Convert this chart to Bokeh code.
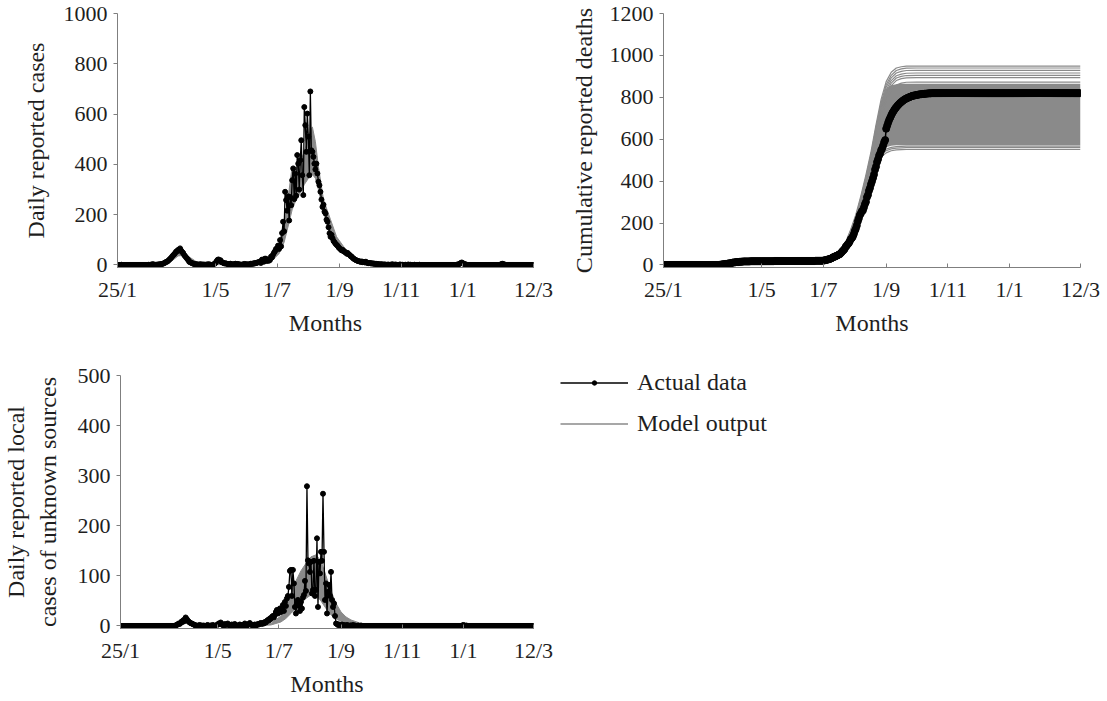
import pandas as pd
from bokeh.plotting import figure
from bokeh.layouts import column, row
from bokeh.models import Range1d, FixedTicker, Legend, LegendItem
from bokeh.embed import file_html
from bokeh.resources import INLINE

# ---------------- data ----------------
START_DATE = "2020-01-25"
tick_dates = ["2020-01-25", "2020-05-01", "2020-07-01", "2020-09-01",
              "2020-11-01", "2021-01-01", "2021-03-12"]
tick_labels = ["25/1", "1/5", "1/7", "1/9", "1/11", "1/1", "12/3"]

y_ticks_cases = [0, 200, 400, 600, 800, 1000]
y_ticks_deaths = [0, 200, 400, 600, 800, 1000, 1200]
y_ticks_unknown = [0, 100, 200, 300, 400, 500]

# daily reported cases, one value per day from 25/1/2020
daily_cases = (
    [0, 0, 0, 0, 1, 0, 0, 0, 0, 0, 0, 0, 0, 0, 0, 0, 0, 0, 0, 0,
     0, 0, 0, 0, 0, 0, 0, 0, 0, 0, 0, 1, 0, 1, 2, 3, 2]
    + [0, 1, 1, 2, 2, 3, 3, 4, 5, 7, 9, 12, 13, 16, 20, 24, 28, 33, 38, 42,
       47, 53, 55, 60, 58, 66, 57, 52, 48, 40, 35, 30, 25, 20, 13, 11, 9, 7, 5, 4,
       3, 3, 2]
    + [2, 1, 3, 2, 1, 2, 1, 0, 2, 1, 3, 2, 1, 0, 1, 2, 4]
    + [8, 14, 20, 22, 17, 19, 12, 10, 8, 6, 7, 5, 4, 3]
    + [4, 5, 3, 2, 2, 4, 5, 3, 4, 3, 2, 1, 1, 2, 3, 4, 2, 3, 2, 2,
       3, 5, 4, 6, 5, 8, 7, 9, 10, 12]
    + [12, 8, 21, 21, 13, 25, 25, 16, 19, 17, 20, 33, 30, 41, 49, 55, 64]
    + [66, 77, 64, 99, 74, 127, 172, 134, 291, 258,
       216, 273, 177, 270, 238, 337, 384, 262, 363, 275,
       437, 403, 300, 417, 496, 357, 278, 628, 556, 450,
       602, 510, 357, 690, 456, 450, 430, 403, 380, 403,
       364, 331, 317, 291, 260, 231, 240, 212, 205, 180,
       172, 150, 126, 112, 120, 106, 95, 90, 84, 80,
       76, 70, 66, 62, 58, 60, 55, 52, 50, 45,
       48, 42, 40, 35, 33, 28, 25, 22, 20, 18,
       16, 15, 14, 12, 14, 11, 12, 10, 13, 9,
       8, 7, 8, 6, 7, 5, 6, 4]
    + [5, 3, 4, 2, 3, 2, 3, 1, 2, 2, 1, 0, 2, 0, 1, 0, 3, 1, 0, 2,
       1, 0, 0, 1, 2, 0, 1, 0, 0, 1, 0, 0, 2, 0, 1, 0, 0, 0, 1, 0,
       0, 0, 0, 1, 0]
    + [0] * 35
    + [1, 2, 3, 5, 8, 10, 7, 5, 3, 2, 1]
    + [0] * 32
    + [1, 3, 5, 4, 2, 1, 0]
    + [0] * 27
)

# cumulative reported deaths, one value per day from 25/1/2020
cum_deaths = (
    [0] * 55
    + [1, 1, 2, 3, 3, 4, 5, 5, 6, 7, 8, 8, 9, 11, 12, 12, 13, 14, 14, 14,
       15, 15, 16, 16, 17]
    + [17] * 6 + [18] * 24 + [19] * 20
    + [19] * 20 + [20] * 8 + [21, 22, 23]
    + [24, 26, 27, 28, 30, 32, 35, 38, 39, 42,
       44, 46, 49, 51, 56, 61, 67, 71, 77, 87,
       92, 99, 104, 112, 123, 128, 135, 147, 162, 173,
       188, 208, 222, 238, 246, 257, 260, 274, 290, 301,
       323, 334, 354, 367, 385, 399, 415, 432, 455, 470,
       491, 505, 522, 532, 547, 556, 570, 586, 596, 650,
       665, 680, 693, 703, 714, 724, 732, 740, 747, 753,
       759, 764, 769, 774, 778, 782, 786, 789, 792, 795,
       797, 799, 801, 803, 805, 807, 808, 809, 810, 811,
       812, 813, 814, 815, 815, 816, 816, 817, 817, 818,
       818, 819, 819, 819, 820]
    + [820] * 147
)

# daily reported local cases of unknown sources
unknown_cases = (
    [0] * 55
    + [1, 2, 3, 5, 4, 6, 9, 8, 12, 10, 17, 14, 11, 9, 7, 6, 5, 4, 3, 2, 1]
    + [1, 0, 1, 2, 0, 1, 0, 1, 0, 0, 1, 2, 0, 0, 1, 0, 2, 1, 0, 0]
    + [2, 3, 5, 4, 7, 3, 2, 1, 4, 2, 3, 5, 2, 1, 0, 3, 1, 2, 4, 2,
       1, 0, 1, 3, 2, 1, 0, 2, 5, 3, 1, 2, 4, 6, 3, 2, 1, 2, 3, 1,
       2, 4, 3, 5, 6]
    + [4, 6, 5, 8, 7, 10, 12, 11, 15, 14,
       18, 20, 17, 22, 28, 32, 25, 30, 35, 28,
       35, 42, 30, 48, 40, 55, 60, 78, 110, 112,
       60, 112, 85, 38, 25, 45, 52, 40, 30, 48,
       35, 57, 62, 90, 70, 279, 131, 125, 108, 128,
       65, 72, 130, 60, 72, 175, 38, 128, 105, 148,
       130, 264, 148, 52, 85, 25, 68, 82, 60, 108,
       52, 38, 45, 20, 5]
    + [4, 2, 3, 1, 2, 3, 1, 2, 0, 1, 2, 1, 0, 1, 1, 0, 2, 0, 1, 0, 0, 1, 0, 0, 1]
    + [0] * 100
    + [1, 2, 1, 0, 1]
    + [0] * 67
)

# model output envelopes (day offset from 25/1/2020)
model_case_days = [0, 40, 50, 55, 60, 65, 70, 80, 90, 140, 150, 155, 160, 165, 170,
                   173, 176, 180, 185, 190, 193, 196, 199, 204, 211, 217, 224, 230,
                   240, 250, 260, 412]
model_case_upper = [0, 2, 15, 30, 48, 52, 35, 8, 3, 8, 25, 45, 85, 170, 300,
                    390, 380, 400, 450, 520, 549, 490, 390, 260, 180, 112, 73, 45,
                    20, 8, 3, 0]
model_case_lower = [0, 0, 8, 20, 36, 38, 22, 4, 1, 3, 12, 25, 45, 90, 170,
                    220, 250, 280, 320, 350, 360, 345, 300, 210, 120, 75, 45, 28,
                    10, 3, 1, 0]

model_unknown_days = [0, 50, 60, 65, 70, 80, 140, 150, 160, 165, 170, 175, 180, 185,
                      190, 195, 200, 205, 210, 215, 220, 225, 230, 240, 250, 412]
model_unknown_upper = [0, 3, 10, 12, 8, 2, 3, 5, 20, 40, 65, 90, 110, 125,
                       138, 142, 130, 100, 70, 45, 28, 18, 12, 5, 2, 0]
model_unknown_lower = [0, 1, 5, 6, 4, 1, 1, 2, 8, 15, 25, 35, 45, 55,
                       62, 62, 50, 35, 22, 14, 9, 6, 4, 2, 1, 0]

model_death_days = [0, 50, 60, 80, 100, 160, 170, 175, 180, 185, 190, 195, 200, 205,
                    210, 215, 220, 225, 230, 235, 240, 250, 260, 412]
# dense part of the model runs (filled band)
model_death_band_top = [0, 0, 8, 18, 20, 24, 45, 70, 110, 170, 240, 330, 430, 540,
                        670, 780, 840, 858, 863, 865, 865, 865, 865, 865]
model_death_band_bottom = [0, 0, 5, 15, 18, 20, 31, 46, 70, 115, 180, 256, 350, 440,
                           505, 545, 562, 569, 571, 571, 571, 571, 571, 571]
# individual model runs outside the dense part
model_death_runs = [
    [0, 0, 8, 18, 20, 24, 45, 70, 110, 170, 240, 330, 430, 540, 670, 790, 875, 920, 940, 946, 949, 949, 949, 949],
    [0, 0, 8, 18, 20, 24, 44, 68, 106, 165, 232, 320, 418, 525, 655, 775, 860, 905, 928, 936, 939, 940, 940, 940],
    [0, 0, 8, 18, 20, 24, 43, 66, 103, 160, 226, 312, 408, 512, 640, 760, 848, 893, 916, 924, 928, 929, 929, 929],
    [0, 0, 8, 18, 20, 24, 42, 64, 100, 155, 220, 304, 398, 500, 626, 745, 835, 880, 903, 911, 915, 916, 916, 916],
    [0, 0, 8, 18, 20, 23, 41, 62, 97, 150, 214, 296, 388, 488, 612, 732, 822, 868, 892, 900, 904, 905, 905, 905],
    [0, 0, 8, 18, 20, 23, 40, 60, 94, 146, 208, 288, 378, 476, 598, 718, 810, 856, 880, 889, 893, 894, 894, 894],
    [0, 0, 8, 18, 20, 23, 39, 58, 90, 140, 200, 278, 365, 460, 578, 695, 788, 834, 858, 868, 872, 873, 873, 873],
    [0, 0, 5, 15, 18, 20, 30, 44, 66, 110, 174, 248, 342, 432, 496, 535, 553, 561, 565, 566, 567, 567, 567, 567],
    [0, 0, 5, 15, 18, 20, 29, 42, 63, 105, 167, 240, 332, 422, 487, 526, 545, 554, 558, 559, 560, 560, 560, 560],
    [0, 0, 5, 15, 18, 20, 28, 40, 60, 100, 160, 230, 320, 410, 475, 515, 535, 545, 549, 550, 551, 551, 551, 551],
]

# ---------------- derived ----------------
start = pd.Timestamp(START_DATE)
tick_days = [int((pd.Timestamp(d) - start).days) for d in tick_dates]
x_end = tick_days[-1]
days = list(range(len(daily_cases)))
assert len(daily_cases) == len(cum_deaths) == len(unknown_cases) == x_end + 1, \
    (len(daily_cases), len(cum_deaths), len(unknown_cases), x_end)

FONT = "Liberation Serif"
TXT = "#1e1e1e"
AXIS = "#7f7f7f"
GREY = "#8a8a8a"


def make_fig(width, height, y_ticks, y_pad, ylabel, left, right, top, bottom, lab_standoff):
    # y_pad: small room below zero so that the zero-level markers are not cut
    p = figure(width=width, height=height, output_backend="svg", toolbar_location=None,
               x_range=Range1d(0, x_end), y_range=Range1d(-y_pad, y_ticks[-1]),
               min_border_left=left, min_border_right=right,
               min_border_top=top, min_border_bottom=bottom)
    p.outline_line_color = None
    p.xgrid.visible = False
    p.ygrid.visible = False
    p.background_fill_color = "white"
    p.border_fill_color = "white"
    for ax in (p.xaxis[0], p.yaxis[0]):
        ax.axis_line_color = AXIS
        ax.axis_line_width = 1
        ax.major_tick_line_color = AXIS
        ax.minor_tick_line_color = None
        ax.major_label_text_font = FONT
        ax.major_label_text_font_size = "22px"
        ax.major_label_text_color = TXT
        ax.axis_label_text_font = FONT
        ax.axis_label_text_font_size = "24px"
        ax.axis_label_text_font_style = "normal"
        ax.axis_label_text_color = TXT
    xa = p.xaxis[0]
    xa.ticker = FixedTicker(ticks=tick_days)
    xa.major_label_overrides = {d: l for d, l in zip(tick_days, tick_labels)}
    xa.major_tick_in = 4
    xa.major_tick_out = 0
    xa.major_label_standoff = 9
    xa.axis_label = "Months"
    xa.axis_label_standoff = 5
    ya = p.yaxis[0]
    ya.ticker = FixedTicker(ticks=y_ticks)
    ya.major_tick_in = 0
    ya.major_tick_out = 4
    ya.major_label_standoff = 6
    ya.axis_label = ylabel
    ya.axis_label_standoff = lab_standoff
    return p


# ---- panel 1: daily reported cases
p1 = make_fig(560, 340, y_ticks_cases, 10, "Daily reported cases", 117, 27, 13, 73, 12)
p1.varea(x=model_case_days, y1=model_case_lower, y2=model_case_upper,
         fill_color=GREY, fill_alpha=1)
p1.line(model_case_days, model_case_upper, line_color=GREY, line_width=1)
p1.line(model_case_days, model_case_lower, line_color=GREY, line_width=1)
p1.line(days, daily_cases, line_color="black", line_width=1.3)
p1.scatter(days, daily_cases, size=5, color="black")

# ---- panel 2: cumulative deaths
p2 = make_fig(547, 340, y_ticks_deaths, 12, "Cumulative reported deaths", 103, 27, 13, 73, 10)
p2.varea(x=model_death_days, y1=model_death_band_bottom, y2=model_death_band_top,
         fill_color=GREY, fill_alpha=1)
p2.multi_line([model_death_days] * len(model_death_runs), model_death_runs,
              line_color=GREY, line_width=1.2)
p2.line(days, cum_deaths, line_color="black", line_width=1.5)
p2.scatter(days, cum_deaths, size=7, color="black")

# ---- panel 3: unknown sources
p3 = make_fig(560, 361, y_ticks_unknown, 5, "Daily reported local\ncases of unknown sources",
              117, 27, 35, 73, 14)
p3.varea(x=model_unknown_days, y1=model_unknown_lower, y2=model_unknown_upper,
         fill_color=GREY, fill_alpha=1)
p3.line(model_unknown_days, model_unknown_upper, line_color=GREY, line_width=1)
p3.line(model_unknown_days, model_unknown_lower, line_color=GREY, line_width=1)
p3.line(days, unknown_cases, line_color="black", line_width=1.3)
p3.scatter(days, unknown_cases, size=5, color="black")

# ---- legend panel (legend-only renderers sit outside the visible range)
leg = figure(width=547, height=361, output_backend="svg", toolbar_location=None,
             title=None, x_range=Range1d(0, 1), y_range=Range1d(0, 1),
             x_axis_location=None, y_axis_location=None,
             min_border_left=0, min_border_right=0, min_border_top=15, min_border_bottom=73)
leg.outline_line_color = None
leg.xgrid.visible = False
leg.ygrid.visible = False
r_line = leg.line([-5, -4], [-5, -4], line_color="black", line_width=1.3)
r_dot = leg.scatter([-5], [-5], size=5, color="black")
r_model = leg.line([-5, -4], [-5, -4], line_color=GREY, line_width=1.3)
legend = Legend(items=[LegendItem(label="Actual data", renderers=[r_line, r_dot]),
                       LegendItem(label="Model output", renderers=[r_model])],
                location=(0, 191), margin=0, padding=0, spacing=14,
                glyph_width=68, glyph_height=11, label_height=11, label_standoff=9,
                label_text_font=FONT, label_text_font_size="24px",
                label_text_color=TXT, border_line_color=None,
                background_fill_alpha=0)
leg.add_layout(legend)

layout = column(row(p1, p2), row(p3, column(leg)))
open("out.html", "w").write(file_html(layout, INLINE))
